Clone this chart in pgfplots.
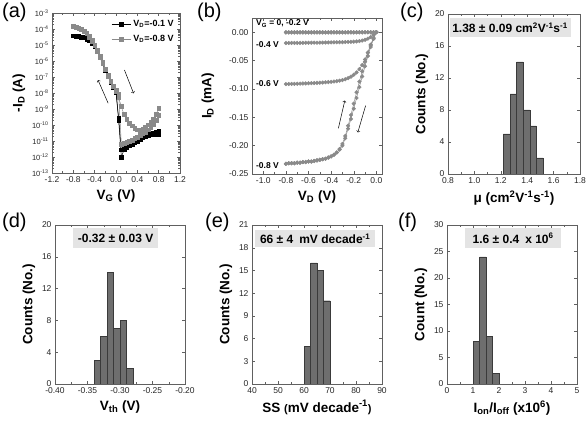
\documentclass[border=0pt]{standalone}
\usepackage{fontspec}
\setmainfont{Liberation Sans}
\usepackage{pgfplots}
\usepackage{pgfplotstable}
\pgfplotsset{compat=1.18}

\definecolor{mgray}{HTML}{8A8A8A}
\definecolor{barfill}{HTML}{6E6E6E}
\definecolor{baredge}{HTML}{3A3A3A}
\definecolor{boxgray}{HTML}{E4E4E4}
\definecolor{frame}{HTML}{606060}

\pgfplotstableread{
V g0 g2 g4 g6 g8f g8r
-0.800 0 -0.0006 -0.0192 -0.0915 -0.232 -0.232
-0.775 0 -0.0006 -0.0191 -0.0914 -0.231 -0.231
-0.750 0 -0.0006 -0.0190 -0.0912 -0.231 -0.231
-0.725 0 -0.0006 -0.0190 -0.0911 -0.231 -0.231
-0.700 0 -0.0006 -0.0189 -0.0909 -0.230 -0.230
-0.675 0 -0.0006 -0.0189 -0.0907 -0.230 -0.230
-0.650 0 -0.0006 -0.0188 -0.0905 -0.229 -0.229
-0.625 0 -0.0006 -0.0187 -0.0903 -0.229 -0.229
-0.600 0 -0.0006 -0.0187 -0.0901 -0.228 -0.228
-0.575 0 -0.0006 -0.0186 -0.0899 -0.228 -0.228
-0.550 0 -0.0006 -0.0185 -0.0897 -0.227 -0.227
-0.525 0 -0.0006 -0.0185 -0.0894 -0.226 -0.226
-0.500 0 -0.0006 -0.0184 -0.0891 -0.225 -0.225
-0.475 0 -0.0006 -0.0183 -0.0888 -0.224 -0.224
-0.450 0 -0.0006 -0.0182 -0.0884 -0.223 -0.223
-0.425 0 -0.0006 -0.0181 -0.0880 -0.221 -0.221
-0.400 0 -0.0006 -0.0180 -0.0875 -0.219 -0.219
-0.375 0 -0.0005 -0.0179 -0.0870 -0.216 -0.216
-0.350 0 -0.0005 -0.0178 -0.0863 -0.212 -0.212
-0.325 0 -0.0005 -0.0177 -0.0855 -0.207 -0.206
-0.300 0 -0.0005 -0.0176 -0.0845 -0.200 -0.197
-0.275 0 -0.0005 -0.0174 -0.0830 -0.187 -0.183
-0.250 0 -0.0005 -0.0172 -0.0810 -0.170 -0.165
-0.225 0 -0.0005 -0.0170 -0.0785 -0.153 -0.146
-0.200 0 -0.0005 -0.0167 -0.0750 -0.135 -0.126
-0.175 0 -0.0004 -0.0163 -0.0710 -0.116 -0.106
-0.150 0 -0.0004 -0.0157 -0.0650 -0.097 -0.087
-0.125 0 -0.0004 -0.0148 -0.0580 -0.078 -0.069
-0.100 0 -0.0003 -0.0135 -0.0480 -0.060 -0.052
-0.075 0 -0.0003 -0.0115 -0.0360 -0.042 -0.036
-0.050 0 -0.0002 -0.0085 -0.0230 -0.026 -0.022
-0.025 0 -0.0001 -0.0045 -0.0110 -0.012 -0.010
0.000 0 0 0 0 0 0
}\outdata

\tikzset{
  boxtxt/.style={fill=boxgray, inner sep=0pt, anchor=north west,
    font=\bfseries\fontsize{12}{13}\selectfont},
}
\pgfplotsset{
  panel/.style={
    scale only axis, anchor=south west,
    tick align=inside,
    axis line style={frame, line width=0.5pt},
    every tick/.style={frame, line width=0.4pt},
    major tick length=3pt, minor tick length=1.6pt,
    tick label style={font=\fontsize{8.5}{9}\selectfont, black!85},
    label style={font=\bfseries\fontsize{13.5}{14}\selectfont},
  },
  hist/.style={panel, ymin=0},
  barsty/.style={ybar interval, fill=barfill, draw=baredge, line width=0.4pt},
}

\begin{document}
\begin{tikzpicture}
\path[use as bounding box] (0pt,0pt) rectangle (587pt,423pt);

% ---------------- (a)
\begin{axis}[panel, at={(52pt,250pt)}, width=128pt, height=160pt,
  ymode=log, xmin=-1.2, xmax=1.2, ymin=1e-13, ymax=1e-3,
  xtick={-1.2,-0.8,-0.4,0,0.4,0.8,1.2},
  xticklabels={-1.2,-0.8,-0.4,0.0,0.4,0.8,1.2},
  minor xtick={-1.0,-0.6,-0.2,0.2,0.6,1.0},
  ytick={1e-13,1e-12,1e-11,1e-10,1e-9,1e-8,1e-7,1e-6,1e-5,1e-4,1e-3},
  yticklabels={10\textsuperscript{-13},10\textsuperscript{-12},10\textsuperscript{-11},10\textsuperscript{-10},10\textsuperscript{-9},10\textsuperscript{-8},10\textsuperscript{-7},10\textsuperscript{-6},10\textsuperscript{-5},10\textsuperscript{-4},10\textsuperscript{-3}},
  yticklabel style={font=\fontsize{7.5}{8}\selectfont},
  xlabel={V\textsubscript{G} (V)}, ylabel={-I\textsubscript{D} (A)},
  legend style={draw=none, fill=none, at={(axis description cs:0.975,0.975)}, anchor=north east,
    font=\bfseries\fontsize{9}{10}\selectfont, row sep=3pt, inner sep=1pt},
  legend cell align=left,
  legend image post style={xscale=1.15},
]
\addplot[black, line width=0.5pt, mark=square*, mark size=1.9pt] coordinates {
(-0.80,3.80e-5) (-0.75,3.63e-5) (-0.70,3.39e-5) (-0.65,3.16e-5) (-0.60,2.82e-5) (-0.55,2.40e-5) (-0.50,1.91e-5) (-0.45,1.32e-5) (-0.40,7.94e-6) (-0.35,3.80e-6) (-0.30,1.70e-6) (-0.25,6.76e-7) (-0.20,2.69e-7) (-0.15,1.07e-7) (-0.10,4.79e-8) (-0.05,2.40e-8) (0.00,1.12e-8) (0.05,2.00e-10) (0.10,1.00e-12) (0.15,2.82e-12) (0.20,3.98e-12) (0.25,5.01e-12) (0.30,6.31e-12) (0.35,7.94e-12) (0.40,1.00e-11) (0.45,1.26e-11) (0.50,1.58e-11) (0.55,1.91e-11) (0.60,2.24e-11) (0.65,2.63e-11) (0.70,3.02e-11) (0.75,3.47e-11) (0.80,3.98e-11)};
\addlegendentry{V\textsubscript{D}=-0.1 V}
\addplot[black, line width=0.5pt, mark=square*, mark size=1.9pt, forget plot] coordinates {
(0.80,2.51e-11) (0.75,2.51e-11) (0.70,2.63e-11) (0.65,2.75e-11) (0.60,2.82e-11) (0.55,2.51e-11) (0.50,2.00e-11) (0.45,1.51e-11) (0.40,1.15e-11) (0.35,8.91e-12) (0.30,7.08e-12) (0.25,5.62e-12) (0.20,4.47e-12) (0.15,3.55e-12) (0.10,2.82e-12) (0.05,2.51e-10) (0.00,1.26e-8) (-0.05,2.63e-8) (-0.10,5.25e-8) (-0.15,1.17e-7) (-0.20,2.95e-7) (-0.25,7.41e-7) (-0.30,1.86e-6) (-0.35,4.17e-6) (-0.40,8.51e-6) (-0.45,1.41e-5) (-0.50,2.00e-5) (-0.55,2.51e-5) (-0.60,2.95e-5) (-0.65,3.31e-5) (-0.70,3.55e-5) (-0.75,3.72e-5) (-0.80,3.80e-5)};
\addplot[mgray, line width=0.5pt, mark=square*, mark size=1.9pt] coordinates {
(-0.80,1.41e-4) (-0.75,1.26e-4) (-0.70,1.07e-4) (-0.65,8.91e-5) (-0.60,7.08e-5) (-0.55,5.01e-5) (-0.50,3.16e-5) (-0.45,1.78e-5) (-0.40,8.91e-6) (-0.35,3.98e-6) (-0.30,1.78e-6) (-0.25,7.08e-7) (-0.20,2.82e-7) (-0.15,1.12e-7) (-0.10,5.01e-8) (-0.05,2.51e-8) (0.00,1.26e-8) (0.05,5.01e-9) (0.10,1.41e-9) (0.15,4.47e-10) (0.20,2.24e-10) (0.25,1.26e-10) (0.30,8.91e-11) (0.35,6.31e-11) (0.40,5.01e-11) (0.45,4.47e-11) (0.50,5.62e-11) (0.55,7.59e-11) (0.60,1.05e-10) (0.65,1.51e-10) (0.70,2.24e-10) (0.75,4.47e-10) (0.80,1.10e-9)};
\addlegendentry{V\textsubscript{D}=-0.8 V}
\addplot[mgray, line width=0.5pt, mark=square*, mark size=1.9pt, forget plot] coordinates {
(0.80,3.98e-10) (0.75,2.00e-10) (0.70,1.12e-10) (0.65,7.08e-11) (0.60,5.01e-11) (0.55,3.55e-11) (0.50,2.82e-11) (0.45,2.24e-11) (0.40,1.78e-11) (0.35,1.41e-11) (0.30,1.12e-11) (0.25,9.55e-12) (0.20,8.32e-12) (0.15,7.08e-12) (0.10,6.31e-12) (0.05,7.94e-9) (0.00,1.41e-8) (-0.05,2.82e-8) (-0.10,5.62e-8) (-0.15,1.26e-7) (-0.20,3.16e-7) (-0.25,7.94e-7) (-0.30,2.00e-6) (-0.35,4.47e-6) (-0.40,1.00e-5) (-0.45,2.00e-5) (-0.50,3.55e-5) (-0.55,5.37e-5) (-0.60,7.59e-5) (-0.65,9.55e-5) (-0.70,1.12e-4) (-0.75,1.29e-4) (-0.80,1.41e-4)};
\draw[->, line width=0.5pt] (axis cs:-0.147,2.29e-9) -- (axis cs:-0.337,6.46e-8);
\draw[->, line width=0.5pt] (axis cs:0.158,2.75e-7) -- (axis cs:0.33,9.55e-9);
\end{axis}

% ---------------- (b)
\begin{axis}[panel, at={(252pt,249pt)}, width=130pt, height=156pt,
  xmin=-1.1, xmax=0.05, ymin=-0.25, ymax=0.025,
  xtick={-1.0,-0.8,-0.6,-0.4,-0.2,0},
  xticklabels={-1.0,-0.8,-0.6,-0.4,-0.2,0.0},
  minor xtick={-0.9,-0.7,-0.5,-0.3,-0.1},
  ytick={-0.25,-0.2,-0.15,-0.1,-0.05,0},
  yticklabels={-0.25,-0.20,-0.15,-0.10,-0.05,0.00},
  xlabel={V\textsubscript{D} (V)}, ylabel={I\textsubscript{D} (mA)},
  ylabel shift=8pt,
]
\addplot[mgray, line width=0.5pt, mark=*, mark size=1.8pt] table[x=V,y=g0] {\outdata};
\addplot[mgray, line width=0.5pt, mark=*, mark size=1.8pt] table[x=V,y=g2] {\outdata};
\addplot[mgray, line width=0.5pt, mark=*, mark size=1.8pt] table[x=V,y=g4] {\outdata};
\addplot[mgray, line width=0.5pt, mark=*, mark size=1.8pt] table[x=V,y=g6] {\outdata};
\addplot[mgray, line width=0.5pt, mark=*, mark size=1.8pt] table[x=V,y=g8f] {\outdata};
\addplot[mgray, line width=0.5pt, mark=*, mark size=1.8pt] table[x=V,y=g8r] {\outdata};
\begin{scope}[every node/.style={font=\bfseries\fontsize{8.5}{9}\selectfont, anchor=west, inner sep=0pt}]
\node at (axis cs:-1.065,0.0155) {V\textsubscript{G} = 0, -0.2 V};
\node at (axis cs:-1.065,-0.021) {-0.4 V};
\node at (axis cs:-1.065,-0.0912) {-0.6 V};
\node at (axis cs:-1.065,-0.2355) {-0.8 V};
\end{scope}
\draw[->, line width=0.5pt] (axis cs:-0.336,-0.1696) -- (axis cs:-0.279,-0.1206);
\draw[->, line width=0.5pt] (axis cs:-0.095,-0.1295) -- (axis cs:-0.164,-0.1767);
\end{axis}

% ---------------- (c)
\begin{axis}[hist, at={(448pt,249pt)}, width=132pt, height=160pt,
  xmin=0.8, xmax=1.8, ymax=20,
  xtick={0.8,1.0,1.2,1.4,1.6,1.8}, xticklabels={0.8,1.0,1.2,1.4,1.6,1.8},
  minor xtick={0.9,1.1,1.3,1.5,1.7},
  ytick={0,4,8,12,16,20}, yticklabels={0,4,8,12,16,20},
  xlabel={μ (cm\textsuperscript{2}V\textsuperscript{-1}s\textsuperscript{-1})}, ylabel={Counts (No.)},
]
\addplot[barsty] coordinates {(1.22,5) (1.27,10) (1.32,14) (1.37,8) (1.42,6) (1.47,2) (1.52,2)};
\node[boxtxt, minimum width=121pt, minimum height=19pt] at (axis description cs:0.01,0.975)
  {1.38 ± 0.09 cm\textsuperscript{2}V\textsuperscript{-1}s\textsuperscript{-1}};
\end{axis}

% ---------------- (d)
\begin{axis}[hist, at={(55pt,39pt)}, width=130pt, height=159pt,
  xmin=-0.40, xmax=-0.20, ymax=20,
  xtick={-0.40,-0.35,-0.30,-0.25,-0.20}, xticklabels={-0.40,-0.35,-0.30,-0.25,-0.20},
  minor xtick={-0.375,-0.325,-0.275,-0.225},
  ytick={0,4,8,12,16,20}, yticklabels={0,4,8,12,16,20},
  xlabel={V\textsubscript{th} (V)}, ylabel={Counts (No.)},
]
\addplot[barsty] coordinates {(-0.34,3) (-0.33,6) (-0.32,14) (-0.31,7) (-0.30,8) (-0.29,2) (-0.28,2)};
\node[boxtxt, minimum width=85pt, minimum height=20pt] at (axis description cs:0.138,0.981)
  {-0.32 ± 0.03 V};
\end{axis}

% ---------------- (e)
\begin{axis}[hist, at={(252pt,39pt)}, width=130pt, height=159pt,
  xmin=40, xmax=90, ymax=21,
  xtick={40,50,60,70,80,90}, xticklabels={40,50,60,70,80,90},
  minor xtick={45,55,65,75,85},
  ytick={0,3,6,9,12,15,18,21}, yticklabels={0,3,6,9,12,15,18,21},
  xlabel={SS {\fontsize{11}{12}\selectfont(}mV decade\textsuperscript{-1}{\fontsize{11}{12}\selectfont)}}, ylabel={Counts (No.)},
]
\addplot[barsty] coordinates {(60,5) (62.5,16) (65,15) (67.5,11) (70,11)};
\node[boxtxt, minimum width=120pt, minimum height=17pt] at (axis description cs:0.023,0.969)
  {66 ± 4\hspace{6pt}mV decade\textsuperscript{-1}};
\end{axis}

% ---------------- (f)
\begin{axis}[hist, at={(447pt,39pt)}, width=130pt, height=159pt,
  xmin=0, xmax=5, ymax=30,
  xtick={0,1,2,3,4,5}, xticklabels={0,1,2,3,4,5},
  minor xtick={0.5,1.5,2.5,3.5,4.5},
  ytick={0,5,10,15,20,25,30}, yticklabels={0,5,10,15,20,25,30},
  xlabel={I\textsubscript{on}/I\textsubscript{off} (x10\textsuperscript{6})}, ylabel={Count (No.)},
]
\addplot[barsty] coordinates {(1.0,8) (1.25,24) (1.5,9) (1.75,2) (2.0,2)};
\node[boxtxt, minimum width=96pt, minimum height=20pt] at (axis description cs:0.138,0.981)
  {1.6 ± 0.4\hspace{6pt}x 10\textsuperscript{6}};
\end{axis}

% panel letters
\begin{scope}[every node/.style={font=\fontsize{20}{22}\selectfont, anchor=north west, inner sep=0pt}]
\node at (2pt,420pt) {(a)};
\node at (197pt,420pt) {(b)};
\node at (400pt,420pt) {(c)};
\node at (2pt,210pt) {(d)};
\node at (205pt,210pt) {(e)};
\node at (398pt,210pt) {(f)};
\end{scope}
\end{tikzpicture}
\end{document}
